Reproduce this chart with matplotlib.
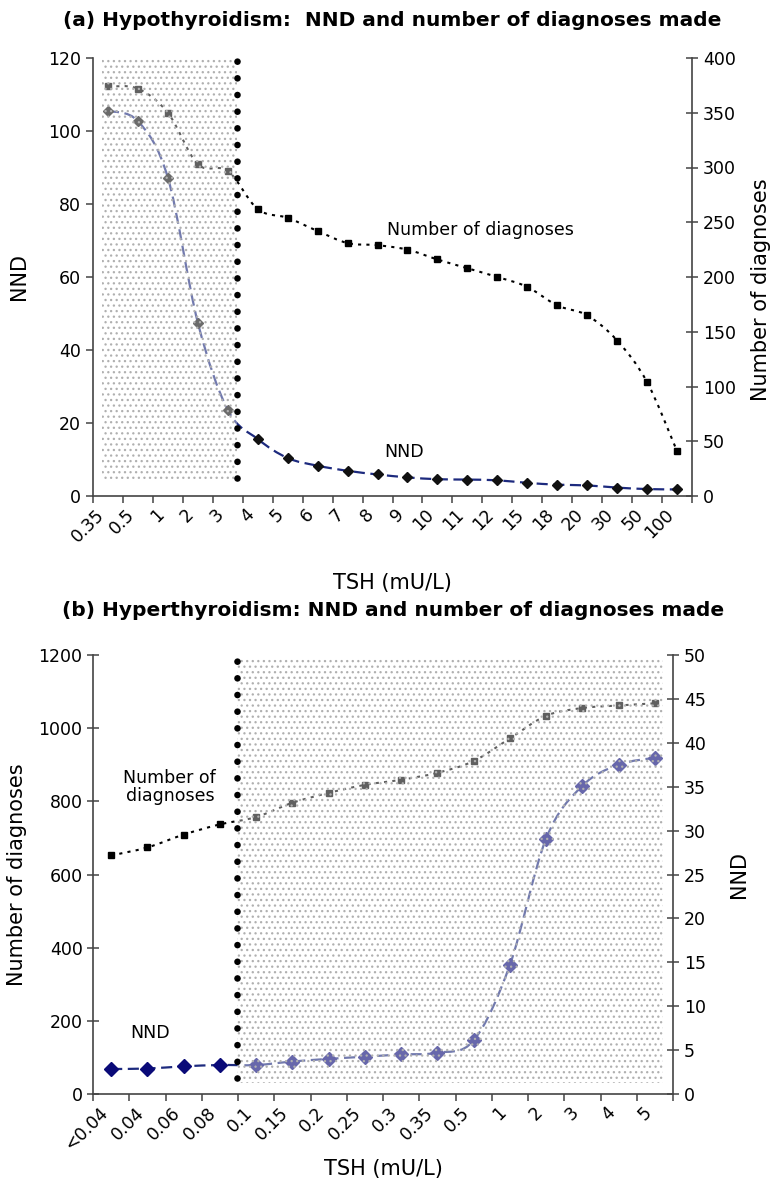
import matplotlib
matplotlib.use("Agg")
import matplotlib.pyplot as plt
import numpy as np
from matplotlib.patches import PathPatch, Rectangle
from matplotlib.path import Path

plt.rcParams["font.family"] = ["DejaVu Sans"]
plt.rcParams["hatch.linewidth"] = 0.9

W, H = 775, 1194

# (a) hypothyroidism
tsh_a = ["0.35", "0.5", "1", "2", "3", "4", "5", "6", "7", "8", "9", "10",
         "11", "12", "15", "18", "20", "30", "50", "100"]
nnd_a = [105.5, 102.7, 87.2, 47.5, 23.6, 15.6, 10.4, 8.3, 6.9, 5.9, 5.1, 4.6,
         4.5, 4.3, 3.6, 3.1, 2.9, 2.3, 1.9, 1.8]
diag_a = [374, 372, 350, 303, 297, 262, 254, 242, 231, 229, 225, 216,
          208, 200, 191, 174, 165, 142, 104, 41]

# (b) hyperthyroidism
tsh_b = ["<0.04", "0.04", "0.06", "0.08", "0.1", "0.15", "0.2", "0.25", "0.3",
         "0.35", "0.5", "1", "2", "3", "4", "5"]
diag_b = [652, 674, 709, 737, 757, 796, 823, 845, 859, 878, 910, 972,
          1034, 1055, 1062, 1068]
nnd_b = [2.85, 2.9, 3.15, 3.3, 3.3, 3.7, 4.0, 4.25, 4.5, 4.7, 6.1, 14.7,
         29.1, 35.1, 37.5, 38.3]

SPINE = "#444444"
NAVY = "#1d2a7e"
TICK_FS = 12.5
LABEL_FS = 15
NOTE_FS = 12.5
TITLE_FS = 14.5


def smooth_path(x, y) -> Path:
    # excel-like smoothed line (catmull-rom as cubic bezier)
    pts = np.column_stack([x, y]).astype(float)
    n = len(pts)
    verts = [pts[0]]
    codes = [Path.MOVETO]
    for i in range(n - 1):
        p0 = pts[max(i - 1, 0)]
        p1 = pts[i]
        p2 = pts[i + 1]
        p3 = pts[min(i + 2, n - 1)]
        verts += [p1 + (p2 - p0) / 6, p2 - (p3 - p1) / 6, p2]
        codes += [Path.CURVE4] * 3
    return Path(verts, codes)


def series(ax, y, color, ls, lw, marker, ms, mcolor):
    x = np.arange(len(y))
    ax.add_patch(PathPatch(smooth_path(x, y), fill=False, edgecolor=color,
                           linestyle=ls, linewidth=lw, zorder=3))
    ax.plot(x, y, linestyle="none", marker=marker, markersize=ms,
            color=mcolor, zorder=4)


def style_axes(ax, ax2, labels, left_dir):
    n = len(labels)
    ax.set_xlim(-0.5, n - 0.5)
    ax.set_xticks(np.arange(n))
    ax.set_xticklabels(labels, rotation=45, ha="right", fontsize=TICK_FS)
    ax.set_xticks(np.arange(n + 1) - 0.5, minor=True)
    ax.tick_params(axis="x", which="major", length=0, pad=7)
    ax.tick_params(axis="x", which="minor", direction="out", length=5,
                   width=1.1, color=SPINE)
    ax.tick_params(axis="y", direction=left_dir, length=8 if left_dir == "inout" else 5,
                   width=1.1, color=SPINE, labelsize=TICK_FS)
    ax2.tick_params(axis="y", direction="inout", length=9, width=1.1,
                    color=SPINE, labelsize=TICK_FS)
    for a in (ax, ax2):
        a.spines["top"].set_visible(False)
        for s in a.spines.values():
            s.set_color(SPINE)
            s.set_linewidth(1.2)
    ax.spines["right"].set_visible(False)
    ax2.spines["left"].set_visible(False)
    ax2.spines["bottom"].set_visible(False)


def shade(ax2, x0, x1, y0, y1, xv, yv0, yv1):
    ax2.add_patch(Rectangle((x0, y0), x1 - x0, y1 - y0,
                            transform=ax2.get_xaxis_transform(),
                            facecolor=(1, 1, 1, 0.38), edgecolor="#b0b0b0",
                            hatch="...", linewidth=0, zorder=5))
    ax2.plot([xv, xv], [yv0, yv1], transform=ax2.get_xaxis_transform(),
             color="black", linewidth=4.8, linestyle=(0, (0.001, 2.5)),
             dash_capstyle="round", zorder=6)


fig = plt.figure(figsize=(W / 100, H / 100), dpi=100)

# ---- panel a ----
ax = fig.add_axes([93 / W, 1 - 496 / H, 599 / W, 438 / H])
ax2 = ax.twinx()
series(ax, nnd_a, NAVY, (0, (5, 2.5)), 1.6, "D", 5, "#111111")
series(ax2, diag_a, "black", (0, (1.5, 2.5)), 1.5, "s", 4.5, "black")
ax.set_ylim(0, 120)
ax.set_yticks(np.arange(0, 121, 20))
ax2.set_ylim(0, 400)
ax2.set_yticks(np.arange(0, 401, 50))
style_axes(ax, ax2, tsh_a, "out")
shade(ax2, -0.2, 4.3, 0.032, 1.0, 4.3, 0.041, 1.0)
ax.set_ylabel("NND", fontsize=LABEL_FS)
ax.yaxis.set_label_coords((29 - 93) / 599, 0.5)
ax2.set_ylabel("Number of diagnoses", fontsize=LABEL_FS)
ax2.yaxis.set_label_coords((751 - 93) / 599, 0.47)
ax.set_xlabel("TSH (mU/L)", fontsize=LABEL_FS)
ax.xaxis.set_label_coords(0.5, (496 - 573) / 438)
ax.text(9.3, 72.9, "Number of diagnoses", fontsize=NOTE_FS, ha="left", va="center")
ax.text(9.23, 12, "NND", fontsize=NOTE_FS, ha="left", va="center")
fig.text(392 / W, 1 - 20 / H, "(a) Hypothyroidism:  NND and number of diagnoses made",
         fontsize=TITLE_FS, fontweight="bold", ha="center", va="center")

# ---- panel b ----
bx = fig.add_axes([93 / W, 1 - 1094 / H, 580 / W, 439 / H])
bx2 = bx.twinx()
series(bx, diag_b, "black", (0, (1.5, 2.5)), 1.5, "s", 4.5, "black")
series(bx2, nnd_b, NAVY, (0, (5, 2.5)), 1.6, "D", 7, "#0a0a78")
bx.set_ylim(0, 1200)
bx.set_yticks(np.arange(0, 1201, 200))
bx2.set_ylim(0, 50)
bx2.set_yticks(np.arange(0, 51, 5))
style_axes(bx, bx2, tsh_b, "inout")
shade(bx2, 3.47, 15.22, 0.025, 0.993, 3.47, 0.036, 0.993)
bx.set_ylabel("Number of diagnoses", fontsize=LABEL_FS)
bx.yaxis.set_label_coords((27 - 93) / 580, 0.5)
bx2.set_ylabel("NND", fontsize=LABEL_FS)
bx2.yaxis.set_label_coords((729 - 93) / 580, 0.5)
bx.set_xlabel("TSH (mU/L)", fontsize=LABEL_FS)
bx.xaxis.set_label_coords(0.5, (1094 - 1159) / 439)
bx.text(1.62, 838, "Number of\ndiagnoses", fontsize=NOTE_FS, ha="center", va="center",
        multialignment="center", linespacing=1.0)
bx.text(0.52, 166, "NND", fontsize=NOTE_FS, ha="left", va="center")
fig.text(393 / W, 1 - 610 / H, "(b) Hyperthyroidism: NND and number of diagnoses made",
         fontsize=TITLE_FS, fontweight="bold", ha="center", va="center")

fig.savefig("out.png", dpi=100)
